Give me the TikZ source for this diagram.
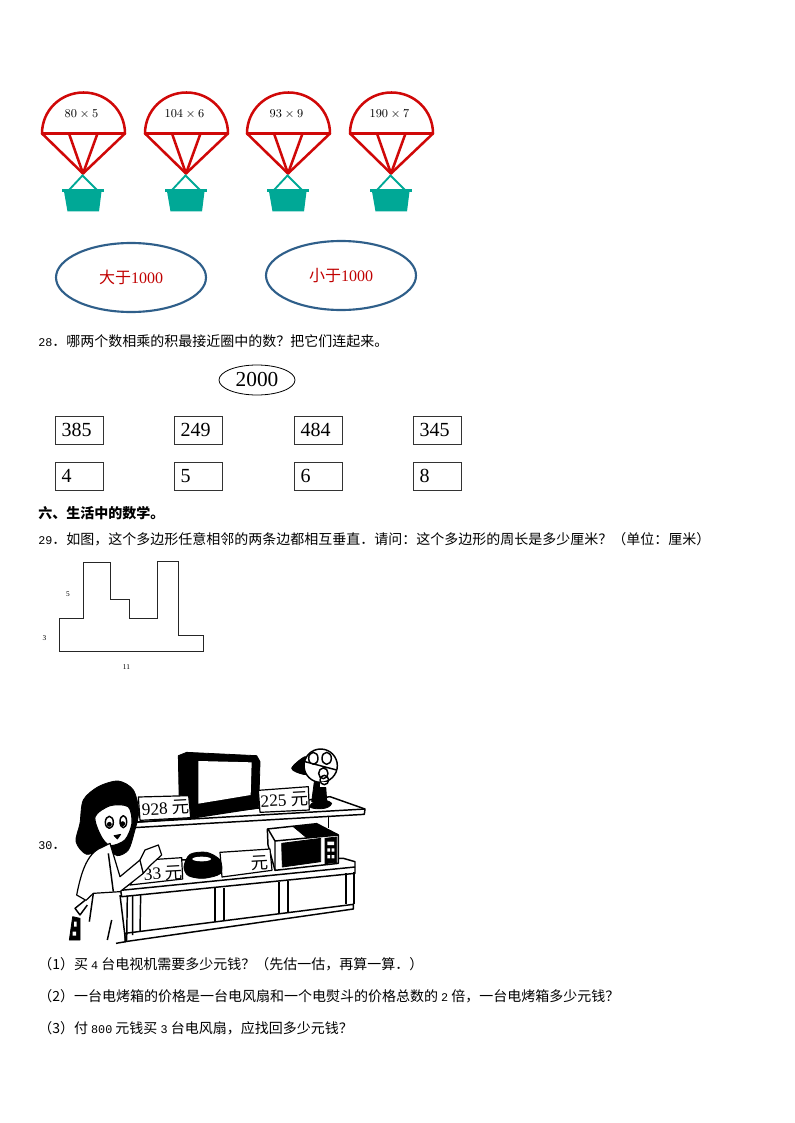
\documentclass[tikz,border=0pt]{standalone}
\usepackage{fontspec}
\setmainfont{Liberation Serif}
\newfontfamily\cjk{Noto Sans CJK SC}
\newfontfamily\numfont{Liberation Mono}[Scale=0.84]
\usetikzlibrary{shapes.geometric}
\definecolor{chutered}{HTML}{D00808}
\definecolor{basketteal}{HTML}{00A896}
\definecolor{ringblue}{HTML}{2F5F8A}
\definecolor{wordred}{HTML}{C00000}
\tikzset{
  rope/.style={chutered,line width=1.9pt,line join=round},
  handle/.style={basketteal,line width=1.4pt},
  ring/.style={draw=ringblue,line width=1.6pt,ellipse,inner sep=0pt,minimum width=112.5pt,minimum height=51.75pt,text=wordred,font=\fontsize{12}{12}\selectfont},
  numbox/.style={draw=black!80,line width=0.7pt,inner xsep=5pt,inner ysep=0pt,text width=26pt,align=left,minimum height=21pt,font=\fontsize{15}{16}\selectfont},
  line/.style={anchor=west,inner sep=0pt,font=\fontsize{10.5}{12}\selectfont\cjk},
  tiny/.style={inner sep=0pt,font=\fontsize{5.5}{6}\selectfont},
  ink/.style={draw=black,line width=1.1pt,line join=round},
  blob/.style={fill=black,draw=black,line width=0.6pt,line join=round},
  blank/.style={fill=white,draw=black,line width=0.9pt,line join=round},
  tag/.style={inner sep=0pt,font=\fontsize{13}{14}\selectfont,rotate=3}
}
% one parachute: name, x of the centre, sum
\newcommand{\Chute}[3]{
  \begin{scope}[shift={(#2,133.5)}]
  \draw[rope] (-41.5,0) .. controls (-41.5,-23) and (-23,-41) .. (0,-41) .. controls (23,-41) and (41.5,-23) .. (41.5,0) -- cycle;
  \node[inner sep=0pt,font=\fontsize{9.5}{10}\selectfont] (#1-sum) at (-2,-19.5) {$#3$};
  \coordinate (#1-l) at (-41.5,0);
  \coordinate (#1-m) at (-14.5,0);
  \coordinate (#1-n) at (14,0);
  \coordinate (#1-r) at (41.5,0);
  \coordinate (#1-hook) at (-0.5,40);
  \coordinate (#1-top) at (-1,42);
  \coordinate (#1-a) at (-14.5,56.5);
  \coordinate (#1-b) at (13.5,56.5);
  \draw[rope] (#1-l) -- (#1-hook) -- (#1-r);
  \draw[rope] (#1-m) -- (#1-hook) -- (#1-n);
  \draw[handle] (#1-a) -- (#1-top) -- (#1-b);
  \fill[basketteal] (-21.5,55.5) rectangle (20,59);
  \fill[basketteal] (-19.5,58) -- (18,58) -- (15.5,78) -- (-16,78) -- cycle;
  \end{scope}
}
\begin{document}
\begin{tikzpicture}[x=0.75pt,y=-0.75pt]
\useasboundingbox (0,0) rectangle (794,1123);

\Chute{c1}{83.5}{80\times 5}
\Chute{c2}{186.5}{104\times 6}
\Chute{c3}{288.5}{93\times 9}
\Chute{c4}{391.5}{190\times 7}

\node[ring] (big) at (131,277.5) {{\cjk 大于}1000};
\node[ring] (small) at (341,275.5) {{\cjk 小于}1000};

\node[line] (q28) at (38,341) {{\numfont 28}．哪两个数相乘的积最接近圈中的数？把它们连起来。};

\node[draw,ellipse,line width=0.6pt,inner sep=0pt,minimum width=57pt,minimum height=22.5pt,font=\fontsize{16}{16}\selectfont] (goal) at (257,380) {2000};

\node[numbox] (f1) at (79,430) {385};
\node[numbox] (f2) at (198,430) {249};
\node[numbox] (f3) at (318,430) {484};
\node[numbox] (f4) at (437,430) {345};
\node[numbox] (g1) at (79,476) {4};
\node[numbox] (g2) at (198,476) {5};
\node[numbox] (g3) at (318,476) {6};
\node[numbox] (g4) at (437,476) {8};

\node[line,font=\fontsize{10.5}{12}\selectfont\cjk\bfseries] (part6) at (38,513) {六、生活中的数学。};
\node[line] (q29) at (38,539) {{\numfont 29}．如图，这个多边形任意相邻的两条边都相互垂直．请问：这个多边形的周长是多少厘米？（单位：厘米）};

\draw[black!85,line width=0.75pt] (59.3,618.3) -- (83.3,618.3) -- (83.3,562) -- (110.3,562) -- (110.3,599.3) -- (129,599.3) -- (129,618.3) -- (157.3,618.3) -- (157.3,561.3) -- (178,561.3) -- (178,635.3) -- (203.3,635.3) -- (203.3,651) -- (59.3,651) -- cycle;
\node[tiny] (five) at (68,594) {5};
\node[tiny] (three) at (44.5,638) {3};
\node[tiny] (eleven) at (126.5,667) {11};

\node[line] (q30) at (38,846) {{\numfont 30}．};

% shelves, goods and the girl
\begin{scope}[shift={(30,745)},x=0.25pt,y=-0.25pt]
% upper shelf
\draw[ink,fill=white] (310,232) -- (480,220) -- (900,155) -- (1005,192) -- (1003,208) -- (310,248) -- cycle;
\draw[ink] (310,232) -- (1005,192);
\draw[ink] (895,212) -- (895,250);
% tv
\fill[blob] (445,32) -- (470,22) -- (680,32) -- (690,50) -- (686,190) -- (600,200) -- (480,218) -- (448,185) -- cycle;
\fill[white] (505,48) -- (665,52) -- (662,150) -- (505,176) -- cycle;
\draw[blank] (325,156) -- (476,152) -- (482,218) -- (330,226) -- cycle;
\node[tag] (tvtag) at (407,190) {928 {\cjk 元}};
\draw[blank] (685,136) -- (835,125) -- (838,195) -- (690,202) -- cycle;
\node[tag] (fantag) at (763,165) {225 {\cjk 元}};
% fan
\fill[blob] (838,185) .. controls (850,160) and (890,160) .. (905,175) .. controls (900,195) and (850,195) .. (838,185) -- cycle;
\fill[blob] (855,95) -- (885,95) -- (890,165) -- (845,170) -- cycle;
\fill[blob] plot[smooth cycle] coordinates {(785,70) (825,35) (850,50) (860,85) (820,88)};
\draw[ink,fill=white] (872,62) circle (50 and 50);
\draw[ink] (850,40) circle (14 and 18) (890,40) circle (14 and 18) (880,85) circle (14 and 16) (825,50) -- (920,75);
\fill[white] (870,110) rectangle (895,125);
\draw[ink] (883,105) circle (13 and 14);
% lower shelf
\draw[ink,fill=white] (272,436) -- (400,345) -- (940,340) -- (975,350) -- (975,385) -- (275,455) -- cycle;
\draw[ink] (272,436) -- (975,366);
\draw[ink,fill=white] (285,565) -- (970,478) -- (970,492) -- (285,590) -- cycle;
\draw[ink] (292,452) -- (290,590) (308,452) -- (308,570) (332,450) -- (330,560);
\draw[ink,line width=1.6pt] (555,430) -- (555,530) (582,428) -- (582,526);
\draw[ink,line width=1.6pt] (746,410) -- (746,505) (775,408) -- (775,500);
\draw[ink,line width=1.6pt] (948,385) -- (948,476) (972,382) -- (972,478);
% microwave
\draw[ink,fill=white] (712,252) -- (860,236) -- (925,270) -- (925,355) -- (735,376) -- (714,300) -- cycle;
\draw[ink] (714,252) -- (735,288) -- (925,270) (735,288) -- (735,376);
\fill[blob] (790,245) -- (860,238) -- (922,268) -- (830,278) -- cycle;
\fill[blob] (755,295) -- (872,280) -- (872,350) -- (757,366) -- cycle;
\fill[blob] (885,280) -- (920,276) -- (920,352) -- (885,356) -- cycle;
\fill[white] (892,290) rectangle (912,300) (892,310) rectangle (900,320) (905,310) rectangle (913,320) (892,330) rectangle (900,340) (905,330) rectangle (913,340);
% blank tag and iron
\draw[blank] (570,322) -- (720,312) -- (726,376) -- (576,396) -- cycle;
\node[tag] (blanktag) at (690,355) {{\cjk 元}};
\draw[blank] (350,345) -- (455,338) -- (458,402) -- (300,420) -- cycle;
\node[tag] (irontag) at (400,385) {33 {\cjk 元}};
\fill[blob] plot[smooth cycle] coordinates {(462,365) (480,328) (530,322) (570,345) (572,385) (520,400) (475,392)};
\fill[white] (515,342) ellipse (28 and 7);
% girl
\fill[blob] plot[smooth cycle] coordinates {(265,108) (310,135) (326,200) (312,265) (295,315) (262,332) (225,310) (170,328) (138,290) (150,235) (160,165) (205,125)};
\draw[blank] plot[smooth cycle] coordinates {(195,215) (240,182) (295,185) (306,235) (285,285) (240,302) (212,272)};
\draw[ink] (238,232) ellipse (12 and 18) (280,230) ellipse (10 and 18);
\fill[blob] (238,238) circle (6) (278,236) circle (6) (252,272) -- (272,268) -- (262,282) -- cycle;
\draw[blank] (205,312) .. controls (165,335) and (150,400) .. (140,450) -- (168,466) -- (190,445) -- (270,440) -- (340,385) -- (330,345) -- (270,395) -- (240,295) -- cycle;
\draw[blank] (330,345) -- (345,315) -- (385,300) -- (395,330) -- (360,362) -- (340,385) -- cycle;
\draw[ink] (235,325) -- (250,440) (270,450) -- (287,590) -- (258,595) (245,525) -- (232,585);
\draw[ink] (165,466) -- (135,490) -- (150,510) -- (172,480) (190,445) -- (178,530);
\fill[blob] (128,515) -- (150,520) -- (150,585) -- (118,585) -- cycle;
\fill[white] (132,530) rectangle (140,545) (128,560) rectangle (138,572);
\end{scope}

\node[line] (a1) at (38,964) {（1）买 {\numfont 4} 台电视机需要多少元钱？（先估一估，再算一算．）};
\node[line] (a2) at (38,996) {（2）一台电烤箱的价格是一台电风扇和一个电熨斗的价格总数的 {\numfont 2} 倍，一台电烤箱多少元钱？};
\node[line] (a3) at (38,1028) {（3）付 {\numfont 800} 元钱买 {\numfont 3} 台电风扇，应找回多少元钱？};
\end{tikzpicture}
\end{document}
